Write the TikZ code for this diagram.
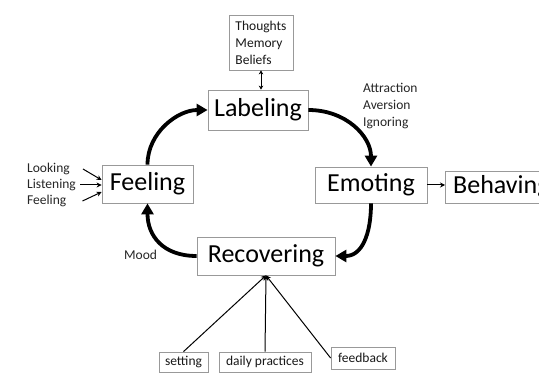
\documentclass[tikz,border=0pt]{standalone}
\usepackage{fontspec}
\setmainfont{Carlito}
\usetikzlibrary{arrows.meta}
\begin{document}
\begin{tikzpicture}[x=1pt,y=-1pt,
  bigbox/.style={draw=black!40, line width=0.8pt, font=\fontsize{26}{30}\selectfont, text=black, inner sep=0pt},
  smallbox/.style={draw=black!40, line width=0.8pt, font=\fontsize{13.5}{16}\selectfont, text=black!90, inner sep=0pt},
  lbl/.style={font=\fontsize{13.5}{17}\selectfont, text=black!85, inner sep=2pt, align=left},
  cyc/.style={line width=3.8pt, -{Triangle[length=11pt,width=12pt]}},
  thinarr/.style={line width=1pt, -{Stealth[length=5pt,width=5pt]}},
  dblarr/.style={line width=0.9pt, {Stealth[length=4pt,width=4.5pt]}-{Stealth[length=4pt,width=4.5pt]}}
]
\useasboundingbox (0,0) rectangle (539,377);
\fill[white] (0,0) rectangle (539,377);

% main boxes
\node[bigbox, minimum width=100, minimum height=40] (Labeling) at (258,110) {Labeling};
\node[bigbox, minimum width=112, minimum height=36] (Emoting) at (371,185) {Emoting};
\node[bigbox, minimum width=112, minimum height=32, anchor=west, inner xsep=7pt] (Behaving) at (445,187) {Behaving};
\node[bigbox, minimum width=91, minimum height=38] (Feeling) at (147.5,184) {Feeling};
\node[bigbox, minimum width=138, minimum height=38] (Recovering) at (266,256) {Recovering};

% thoughts box
\node[smallbox, minimum width=64, minimum height=55, align=left, font=\fontsize{13.5}{17}\selectfont] (Thoughts) at (261,42.5) {Thoughts\\Memory\\Beliefs};

% bottom boxes
\node[smallbox, minimum width=49, minimum height=20] (setting) at (183.5,362) {setting};
\node[smallbox, minimum width=92, minimum height=20] (daily) at (265,362) {daily practices};
\node[smallbox, minimum width=64, minimum height=22] (feedback) at (363,358) {feedback};

% labels
\node[lbl, anchor=west] (attr) at (361,106) {Attraction\\Aversion\\Ignoring};
\node[lbl, anchor=west] (Mood) at (122,255) {Mood};
\node[lbl, anchor=west] (Looking) at (25,169) {Looking};
\node[lbl, anchor=west] (Listening) at (25,185) {Listening};
\node[lbl, anchor=west] (Feel2) at (25,201) {Feeling};

% cycle
\draw[cyc] (Feeling.north) .. controls +(0,-32) and +(-30,0) .. (Labeling.west);
\draw[cyc] (Labeling.east) .. controls +(38,0) and +(0,-30) .. (Emoting.north);
\draw[cyc] (Emoting.south) .. controls +(0,32) and +(26,0) .. (Recovering.east);
\draw[cyc] (Recovering.west) .. controls +(-34,0) and +(0,32) .. (Feeling.south);

% small arrows
\draw[dblarr] (Thoughts.south) -- (Thoughts.south |- Labeling.north);
\draw[thinarr] (Emoting.east) -- (Behaving.west |- Emoting.east);
\draw[thinarr] ([xshift=11pt]Looking.east) -- ([yshift=4pt]Feeling.west);
\draw[thinarr] ([xshift=2pt]Listening.east) -- ([yshift=-1pt]Feeling.west);
\draw[thinarr] ([xshift=14pt]Feel2.east) -- ([yshift=-8pt]Feeling.west);

\draw[thinarr] (setting.north) -- (Recovering.south);
\draw[thinarr] (daily.north) -- (Recovering.south);
\draw[thinarr] (feedback.west) -- (Recovering.south);
\end{tikzpicture}
\end{document}
